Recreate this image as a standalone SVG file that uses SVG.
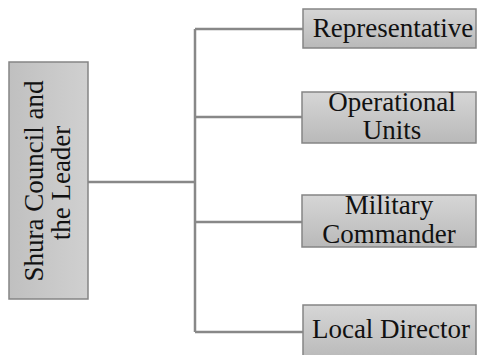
<svg xmlns="http://www.w3.org/2000/svg" width="478" height="355" viewBox="0 0 478 355">
<defs>
<linearGradient id="g" x1="0" y1="0" x2="0" y2="1">
<stop offset="0" stop-color="#d6d6d6"/>
<stop offset="1" stop-color="#b9b9b9"/>
</linearGradient>
<linearGradient id="gl" x1="0" y1="0" x2="1" y2="0">
<stop offset="0" stop-color="#c0c0c0"/>
<stop offset="1" stop-color="#d0d0d0"/>
</linearGradient>
<style>
.box{stroke:#858585;stroke-width:1.5;fill:url(#g)}
.t{font-family:"Liberation Serif","Times New Roman",serif;font-size:27px;fill:#111;text-anchor:middle}
.c{fill:none;stroke:#888;stroke-width:2.5}
</style>
</defs>
<rect width="478" height="355" fill="#fff"/>
<g id="connectors">
<path class="c" d="M88,182 H195"/>
<path class="c" d="M195,29 V332"/>
<path class="c" d="M195,29 H303"/>
<path class="c" d="M195,117 H302"/>
<path class="c" d="M195,222 H302"/>
<path class="c" d="M195,332 H303"/>
</g>
<g id="shura">
<rect class="box" x="9" y="62" width="79" height="237" style="fill:url(#gl)"/>
<text class="t" transform="translate(43,181) rotate(-90)">Shura Council and</text>
<text class="t" transform="translate(70,183) rotate(-90)">the Leader</text>
</g>
<g id="representative">
<rect class="box" x="303" y="9" width="173" height="39"/>
<text class="t" x="393" y="37">Representative</text>
</g>
<g id="operational">
<rect class="box" x="302" y="92" width="174" height="51"/>
<text class="t" x="392" y="111" font-size="26">Operational</text>
<text class="t" x="392" y="139" font-size="26">Units</text>
</g>
<g id="military">
<rect class="box" x="302" y="195" width="174" height="52"/>
<text class="t" x="389" y="214">Military</text>
<text class="t" x="389" y="243">Commander</text>
</g>
<g id="local">
<rect class="box" x="303" y="305" width="173" height="55"/>
<text class="t" x="391" y="338">Local Director</text>
</g>
</svg>
